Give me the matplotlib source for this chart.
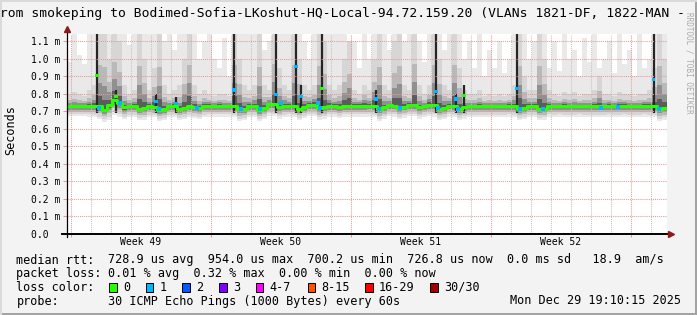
import numpy as np
import pandas as pd
import matplotlib
matplotlib.use("Agg")
import matplotlib.pyplot as plt
import matplotlib.dates as mdates
from matplotlib.patches import Rectangle
from matplotlib.transforms import blended_transform_factory

W, H = 697, 315

# 30 days, one column every 6 hours (values in milliseconds)
start = "2025-11-29 19:10"

median_ms = [
    .729, .729, .729, .728, .729, .731, .728, .708, .735, .763,
    .748, .722, .729, .730, .714, .718, .729, .726, .709, .714,
    .729, .730, .711, .717, .729, .725, .718, .729, .731, .731,
    .731, .730, .730, .732, .712, .715, .730, .729, .710, .718,
    .740, .742, .722, .730, .731, .730, .712, .724, .738, .737,
    .718, .722, .731, .730, .724, .731, .731, .731, .731, .731,
    .733, .733, .711, .722, .734, .733, .719, .727, .737, .736,
    .722, .730, .737, .734, .713, .720, .733, .731, .714, .722,
    .729, .729, .729, .730, .729, .729, .730, .730, .731, .729,
    .715, .720, .729, .729, .713, .716, .731, .730, .731, .730,
    .730, .729, .731, .730, .729, .730, .728, .730, .731, .729,
    .730, .731, .730, .729, .730, .731, .730, .729, .713, .718,
]

ping_min_ms = [
    .672, .672, .672, .672, .670, .668, .655, .640, .650, .680,
    .670, .655, .668, .668, .648, .652, .668, .665, .645, .650,
    .668, .668, .648, .655, .666, .662, .655, .668, .670, .670,
    .670, .670, .670, .665, .645, .650, .668, .666, .645, .655,
    .675, .672, .658, .668, .670, .668, .648, .660, .672, .672,
    .652, .658, .670, .670, .662, .670, .670, .670, .670, .670,
    .670, .668, .645, .658, .672, .670, .655, .664, .672, .672,
    .658, .668, .672, .670, .648, .655, .670, .668, .648, .658,
    .668, .668, .668, .668, .668, .668, .668, .668, .670, .665,
    .650, .656, .668, .668, .648, .652, .670, .668, .670, .668,
    .668, .668, .670, .668, .668, .668, .665, .668, .670, .668,
    .668, .670, .668, .668, .668, .670, .668, .665, .645, .652,
]

ping_max_ms = [
    0.98, 1.2, 1.02, 0.97, 1.2, 1.2, 1.2, 1.2, 1.2, 1.2,
    1.2, 1.2, 1.08, 1.2, 1.2, 1.2, 1.2, 1.2, 1.2, 1.1,
    1.2, 1.05, 1.2, 1.2, 1.2, 1.2, 1.0, 1.1, 1.2, 1.0,
    0.95, 1.12, 0.9, 1.2, 1.2, 1.2, 1.2, 1.2, 1.2, 1.05,
    1.1, 1.2, 1.2, 1.2, 1.2, 1.2, 1.2, 1.1, 1.0, 1.2,
    1.2, 1.2, 1.2, 1.2, 1.15, 1.2, 1.0, 1.1, 0.95, 1.2,
    1.0, 1.2, 1.2, 1.2, 1.05, 1.2, 1.2, 1.1, 1.2, 1.2,
    1.1, 0.98, 1.2, 1.2, 1.2, 1.05, 1.2, 1.2, 1.2, 1.0,
    1.1, 0.95, 1.15, 0.9, 1.05, 0.95, 1.1, 0.92, 1.0, 1.2,
    1.2, 1.2, 1.0, 1.1, 1.2, 1.2, 0.95, 1.1, 0.93, 1.2,
    1.0, 1.05, 0.9, 1.12, 0.98, 1.2, 0.95, 1.0, 1.1, 0.92,
    1.2, 0.97, 1.05, 0.9, 1.15, 0.95, 1.0, 1.2, 1.2, 1.2,
]

ping_p90_ms = [
    0.80, 0.81, 0.80, 0.79, 0.82, 0.85, 1.2, 1.2, 1.0, 1.2,
    1.1, 0.85, 0.80, 0.82, 1.2, 1.0, 0.82, 0.95, 1.2, 0.85,
    0.80, 0.82, 0.85, 1.0, 1.2, 0.85, 0.80, 0.82, 0.80, 0.79,
    0.80, 0.80, 0.79, 1.2, 1.0, 0.85, 0.82, 0.85, 1.2, 0.85,
    0.82, 1.2, 0.95, 0.85, 0.82, 1.2, 1.0, 0.85, 0.82, 0.85,
    1.2, 1.1, 0.85, 0.82, 0.85, 1.0, 1.1, 0.82, 0.80, 0.85,
    0.82, 1.0, 1.2, 0.85, 0.82, 1.1, 1.2, 0.85, 0.82, 1.2,
    0.85, 0.80, 0.85, 1.2, 1.0, 0.85, 0.82, 1.2, 0.95, 0.82,
    0.80, 0.80, 0.82, 0.79, 0.80, 0.79, 0.80, 0.79, 0.80, 0.85,
    1.2, 0.9, 0.82, 0.82, 1.2, 1.0, 0.82, 0.80, 0.79, 0.81,
    0.80, 0.81, 0.79, 0.80, 0.80, 0.82, 0.9, 0.80, 0.80, 0.79,
    0.81, 0.80, 0.80, 0.79, 0.80, 0.80, 0.82, 0.95, 1.2, 1.0,
]

# short latency spikes
spike_time = ["2025-12-01 07:10", "2025-12-02 05:58", "2025-12-04 05:58",
              "2025-12-05 05:58", "2025-12-08 03:34", "2025-12-10 05:58",
              "2025-12-11 05:58", "2025-12-11 11:58", "2025-12-12 13:10",
              "2025-12-15 05:58", "2025-12-18 05:58", "2025-12-19 05:58",
              "2025-12-19 15:34", "2025-12-22 07:10", "2025-12-29 02:58"]
spike_ms = [0.907, 0.787, 0.757, 0.743, 0.822, 0.795, 0.956, 0.785, 0.832,
            0.770, 0.814, 0.770, 0.789, 0.829, 0.881]
spike_top_ms = [1.2, 0.82, 0.80, 0.78, 1.2, 1.2, 1.2, 0.85, 1.2,
                0.82, 1.2, 0.80, 0.85, 1.2, 1.2]
spike_loss = [0, 0, 1, 1, 1, 1, 1, 1, 0, 1, 1, 1, 0, 1, 1]

# single lost pings on the median line
loss_time = ["2025-12-01 09:34", "2025-12-02 10:46", "2025-12-04 09:34",
             "2025-12-06 07:10", "2025-12-08 11:58", "2025-12-09 10:46",
             "2025-12-10 11:58", "2025-12-12 08:22", "2025-12-12 10:46",
             "2025-12-15 09:34", "2025-12-16 10:46", "2025-12-18 08:22",
             "2025-12-19 08:22", "2025-12-22 10:46", "2025-12-23 14:22",
             "2025-12-26 12:22", "2025-12-27 08:46", "2025-12-29 08:58"]
loss_ms = [0.72, 0.745, 0.712, 0.72, 0.712, 0.713, 0.745, 0.75, 0.72,
           0.715, 0.718, 0.718, 0.713, 0.715, 0.712, 0.72, 0.722, 0.712]

week_labels = ["Week 49", "Week 50", "Week 51", "Week 52"]

loss_names = ["0", "1", "2", "3", "4-7", "8-15", "16-29", "30/30"]
loss_colors = ["#26ff00", "#00b8ff", "#0059ff", "#7e00ff",
               "#ff00ff", "#ff5500", "#ff0000", "#a10000"]

MONO = "DejaVu Sans Mono"
plt.rcParams["font.family"] = MONO


def fx(x):
    return x / W


def fy(y):
    return 1 - y / H


fig = plt.figure(figsize=(W / 100, H / 100), dpi=100, facecolor="#f3f3f3")
ax = fig.add_axes([fx(67), fy(233.8), (667 - 67) / W, 200 / H])
ax.set_facecolor("white")

edges = mdates.date2num(pd.date_range(start, periods=len(median_ms) + 1, freq="6h"))
med = np.append(median_ms, median_ms[-1])
lo = np.append(ping_min_ms, ping_min_ms[-1])
hi = np.append(ping_max_ms, ping_max_ms[-1])
p90 = np.append(ping_p90_ms, ping_p90_ms[-1])

# smoke layers, light outside -> dark near the median
ax.fill_between(edges, lo, hi, step="post", color="#e9e9e9", lw=0, zorder=1)
for lo_f, hi_f, col in [(0.8, 1.0, "#d6d6d6"), (0.55, 0.5, "#b9b9b9"),
                        (0.35, 0.28, "#909090"), (0.18, 0.12, "#5c5c5c")]:
    ax.fill_between(edges, med - (med - lo) * lo_f, med + (p90 - med) * hi_f,
                    step="post", color=col, lw=0, zorder=1)

st = mdates.date2num(pd.to_datetime(spike_time))
ax.vlines(st, 0.69, spike_top_ms, colors="#262626", lw=1.6, zorder=1.6)

ax.step(edges, med, where="post", color=loss_colors[0], lw=2.2, zorder=3)
ax.scatter(st, spike_ms, marker="s", s=5, lw=0,
           c=[loss_colors[i] for i in spike_loss], zorder=4)
ax.scatter(mdates.date2num(pd.to_datetime(loss_time)), loss_ms, marker="s",
           s=5, lw=0, c=loss_colors[1], zorder=4)

ax.set_xlim(edges[0], edges[-1])
ax.set_ylim(0, 200 / 175)

# grid
sundays = mdates.date2num(pd.date_range("2025-11-30", "2025-12-28", freq="7D"))
days = mdates.date2num(pd.date_range("2025-11-30", "2025-12-29", freq="D"))
ax.set_xticks(sundays)
ax.set_xticks(days, minor=True)
ax.set_xticklabels([])
yt = np.arange(0, 1.15, 0.1)
ax.set_yticks(yt)
ax.set_yticklabels([f"{v:.1f} m" if v > 0 else "0.0  " for v in yt])
ax.set_axisbelow(False)
ax.grid(True, which="major", color="#e69a9a", ls=(0, (1, 1)), lw=0.75)
ax.grid(True, which="minor", axis="x", color="#c4c4c4", ls=(0, (1, 1)), lw=0.75)
ax.tick_params(axis="y", length=3, width=0.75, color="#e69a9a", pad=2,
               labelsize=7)
ax.tick_params(axis="x", which="major", length=2.5, width=0.75, color="#e69a9a")
ax.tick_params(axis="x", which="minor", length=0)

for s in ax.spines.values():
    s.set_visible(False)
ax.plot([0, 0], [-0.015, 1.02], transform=ax.transAxes, color="black",
        lw=0.9, clip_on=False, zorder=5)
ax.plot([-0.008, 1.003], [0, 0], transform=ax.transAxes, color="black",
        lw=1.4, clip_on=False, zorder=5)
ax.plot([1.006], [0], transform=ax.transAxes, marker=">", ms=4.5,
        color="#8b1a1a", clip_on=False, zorder=5)
ax.plot([0], [1.025], transform=ax.transAxes, marker="^", ms=4.5,
        color="#8b1a1a", clip_on=False, zorder=5)

trans = blended_transform_factory(ax.transData, ax.transAxes)
for t, lab in zip(sundays + 3.5, week_labels):
    ax.text(t, -8.5 / 200, lab, transform=trans, ha="center", va="center",
            fontsize=7)

# texts
fig.text(fx(-8.5), fy(13.5),
         "from smokeping to Bodimed-Sofia-LKoshut-HQ-Local-94.72.159.20 "
         "(VLANs 1821-DF, 1822-MAN -", fontsize=9.4, va="center", ha="left")
fig.text(fx(11), fy(130), "Seconds", rotation=90, fontsize=8.5,
         ha="center", va="center")
fig.text(fx(689), fy(12), "RRDTOOL / TOBI OETIKER", rotation=-90,
         fontsize=5.5, color="#ababab", ha="center", va="top")

rows = [("median rtt:", "728.9 us avg  954.0 us max  700.2 us min  "
         "726.8 us now  0.0 ms sd   18.9  am/s", 260),
        ("packet loss:", "0.01 % avg  0.32 % max  0.00 % min  0.00 % now", 273.5),
        ("loss color:", "", 287.3),
        ("probe:", "30 ICMP Echo Pings (1000 Bytes) every 60s", 301)]
for lab, val, y in rows:
    fig.text(fx(16.4), fy(y), lab, fontsize=8.5, va="center")
    if val:
        fig.text(fx(107.6), fy(y), val, fontsize=8.5, va="center")
fig.text(fx(681), fy(301), "Mon Dec 29 19:10:15 2025", fontsize=8.5,
         va="center", ha="right")

box_x = [109, 145.8, 182, 219, 255.5, 307.5, 365, 430]
for bx, name, col in zip(box_x, loss_names, loss_colors):
    fig.add_artist(Rectangle((fx(bx), fy(291.5)), 7.5 / W, 8.5 / H,
                             facecolor=col, edgecolor="black", lw=0.7))
    fig.text(fx(bx + 14), fy(287.3), name, fontsize=8.5, va="center")

# frame shading
fig.add_artist(Rectangle((0, 0), 1, 2 / H, color="#a3a3a3", lw=0))
fig.add_artist(Rectangle((1 - 2.5 / W, 0), 2.5 / W, 1, color="#a3a3a3", lw=0))
fig.add_artist(Rectangle((0, 1 - 2 / H), 1, 2 / H, color="#dadada", lw=0))
fig.add_artist(Rectangle((0, 0), 2 / W, 1, color="#dadada", lw=0))

fig.savefig("out.png", dpi=100, facecolor=fig.get_facecolor())
